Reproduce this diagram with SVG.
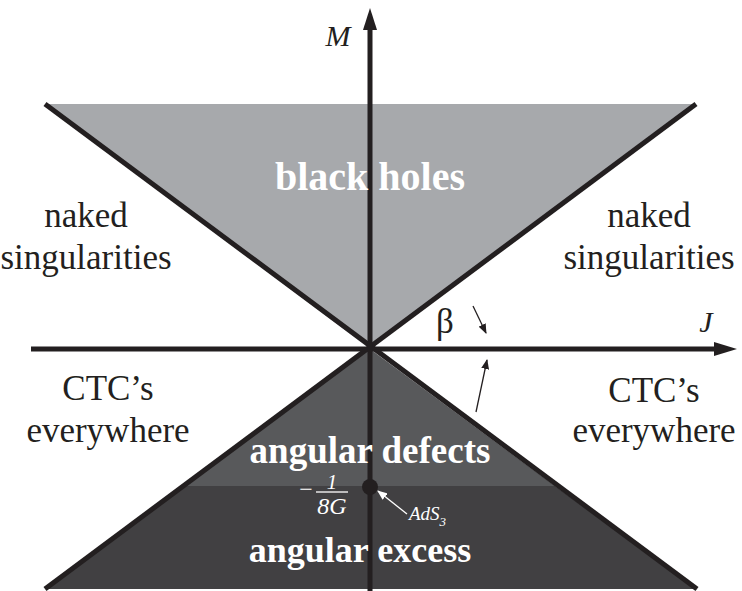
<svg xmlns="http://www.w3.org/2000/svg" width="742" height="591" viewBox="0 0 742 591">
<style>
text{font-family:"Liberation Serif","DejaVu Serif","Times New Roman",serif}
.lbl{fill:#231f20;font-size:35px;text-anchor:middle}
.big{font-weight:bold;fill:#ffffff;text-anchor:middle}
.it{font-style:italic;fill:#231f20}
.wt{font-style:italic;fill:#ffffff}
.edge{stroke:#231f20;stroke-width:5;fill:none}
.axis{stroke:#231f20;stroke-width:5;fill:none}
.thin{stroke:#231f20;stroke-width:1.3;fill:none}
</style>
<defs>
<marker id="ah" markerUnits="userSpaceOnUse" markerWidth="10" markerHeight="8" refX="9" refY="4" orient="auto">
<path d="M0,0 L10,4 L0,8 Z" fill="#231f20"/>
</marker>
<marker id="ahw" markerUnits="userSpaceOnUse" markerWidth="10" markerHeight="8" refX="9" refY="4" orient="auto">
<path d="M0,0 L10,4 L0,8 Z" fill="#ffffff"/>
</marker>
</defs>
<rect width="742" height="591" fill="#ffffff"/>
<g id="black-holes-region">
<polygon points="45,104 696,104 370,349" fill="#a7a9ac"/>
</g>
<g id="angular-defects-region">
<polygon points="370,349 185,486 555,486" fill="#58595b"/>
</g>
<g id="angular-excess-region">
<polygon points="185,486 555,486 697,589 45,589" fill="#414042"/>
</g>
<g id="edges">
<line class="edge" x1="45" y1="104" x2="697" y2="589"/>
<line class="edge" x1="696" y1="104" x2="45" y2="589"/>
</g>
<g id="axes">
<line class="axis" x1="31" y1="349" x2="716" y2="349"/>
<polygon points="714,342 737,349 714,356" fill="#231f20"/>
<line class="axis" x1="370" y1="591" x2="370" y2="28"/>
<polygon points="363,30 370,8 377,30" fill="#231f20"/>
<text class="it" x="338" y="46" font-size="30" text-anchor="middle">M</text>
<text class="it" x="706" y="332" font-size="30" text-anchor="middle">J</text>
</g>
<g id="AdS3-point">
<circle cx="370" cy="487" r="8" fill="#231f20"/>
</g>
<g id="labels">
<text class="big" x="370" y="190" font-size="40">black holes</text>
<text class="big" x="370" y="463" font-size="37">angular defects</text>
<text class="big" x="360" y="562" font-size="36">angular excess</text>
<text class="lbl" x="86" y="227">naked</text>
<text class="lbl" x="86" y="269">singularities</text>
<text class="lbl" x="649" y="227">naked</text>
<text class="lbl" x="649" y="269">singularities</text>
<text class="lbl" x="108" y="400">CTC’s</text>
<text class="lbl" x="108" y="442">everywhere</text>
<text class="lbl" x="654" y="402">CTC’s</text>
<text class="lbl" x="654" y="442">everywhere</text>
<text class="lbl" x="445" y="333" font-size="26">β</text>
<text x="306" y="497" font-size="24" text-anchor="middle" fill="#ffffff">−</text>
<text class="wt" x="332" y="489" font-size="21" text-anchor="middle">1</text>
<line x1="316" y1="492" x2="348" y2="492" stroke="#ffffff" stroke-width="1.3"/>
<text class="wt" x="332" y="514" font-size="24" text-anchor="middle">8G</text>
<text class="wt" x="409" y="520" font-size="19">AdS<tspan font-size="13" dy="6">3</tspan></text>
</g>
<g id="connectors">
<line class="thin" x1="473" y1="306" x2="486" y2="333" marker-end="url(#ah)"/>
<line class="thin" x1="476" y1="412" x2="487" y2="360" marker-end="url(#ah)"/>
<line x1="407" y1="514" x2="378" y2="491" stroke="#ffffff" stroke-width="1.3" marker-end="url(#ahw)"/>
</g>
</svg>
